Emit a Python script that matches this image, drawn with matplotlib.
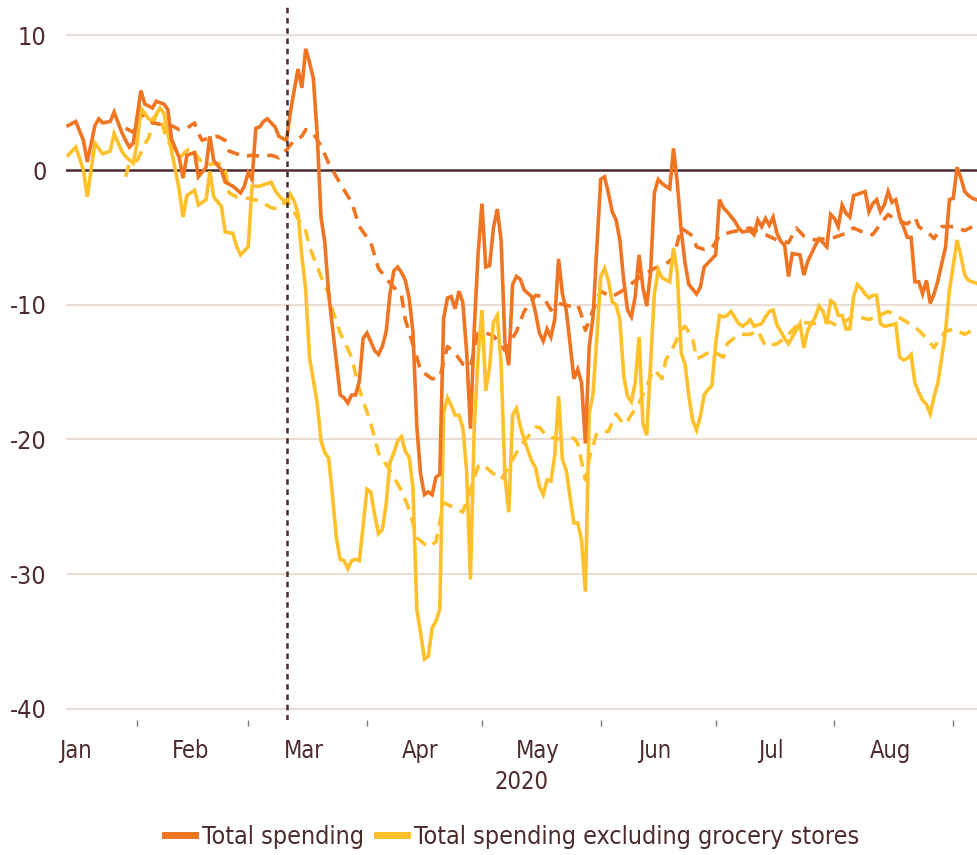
import pandas as pd
import matplotlib
matplotlib.use("Agg")
import matplotlib.pyplot as plt
import matplotlib.dates as mdates
from matplotlib.lines import Line2D
from matplotlib import font_manager

# day number since 1 Jan 2020 -> index (%)
total = [(13, 3.3), (15, 3.6), (17, 2.2), (18, 0.6), (20, 3.3), (21, 3.8), (22, 3.5), (24, 3.6), (25, 4.3),
         (27, 2.8), (28, 2.2), (29, 1.7), (30, 2.0), (32, 5.9), (33, 4.9), (35, 4.6), (36, 5.1), (38, 4.9),
         (39, 4.5), (40, 2.3), (41, 1.6), (42, 0.9), (43, -0.6), (44, 1.1), (46, 1.3), (47, -0.5), (49, 0.2),
         (50, 2.5), (51, 0.7), (53, 0.0), (54, -0.9), (56, -1.2), (58, -1.7), (59, -1.2), (60, -0.2), (61, -0.7),
         (62, 3.1), (63, 3.2), (64, 3.6), (65, 3.8), (67, 3.2), (68, 2.5), (70, 2.2), (71, 4.3), (73, 7.5),
         (74, 6.1), (75, 9.0), (76, 8.0), (77, 6.8), (78, 2.7), (79, -3.5), (80, -5.4), (81, -9.2), (83, -14.2),
         (84, -16.7), (85, -16.9), (86, -17.3), (87, -16.7), (88, -16.7), (89, -15.7), (90, -12.5), (91, -12.1),
         (93, -13.4), (94, -13.7), (95, -13.1), (96, -12.0), (97, -9.2), (98, -7.5), (99, -7.2), (100, -7.6),
         (101, -8.2), (102, -9.5), (103, -12.0), (104, -19.0), (105, -22.6), (106, -24.1), (107, -23.9),
         (108, -24.1), (109, -22.8), (110, -22.6), (111, -11.0), (112, -9.5), (113, -9.4), (114, -10.3),
         (115, -9.0), (116, -9.8), (117, -13.5), (118, -19.2), (119, -11.8), (120, -6.2), (121, -2.5),
         (122, -7.2), (123, -7.1), (124, -4.3), (125, -2.9), (126, -5.2), (127, -12.8), (128, -14.5),
         (129, -8.5), (130, -7.9), (131, -8.1), (132, -8.9), (134, -9.4), (135, -10.6), (136, -12.1),
         (137, -12.7), (138, -11.8), (139, -12.4), (140, -11.1), (141, -6.6), (142, -9.2), (143, -10.4),
         (144, -12.9), (145, -15.5), (146, -14.8), (147, -15.8), (148, -20.3), (149, -13.1), (150, -10.9),
         (151, -5.7), (152, -0.7), (153, -0.5), (154, -1.7), (155, -3.1), (156, -3.7), (157, -5.2), (158, -8.2),
         (159, -10.4), (160, -10.9), (161, -9.4), (162, -6.3), (163, -8.7), (164, -10.1), (165, -7.6),
         (166, -1.7), (167, -0.7), (168, -1.0), (170, -1.4), (171, 1.6), (172, -1.0), (173, -4.5), (174, -6.9),
         (175, -8.5), (177, -9.2), (178, -8.7), (179, -7.2), (181, -6.6), (182, -6.3), (183, -2.2), (184, -2.8),
         (185, -3.1), (187, -3.8), (188, -4.3), (189, -4.6), (191, -4.5), (192, -4.8), (193, -3.7), (194, -4.2),
         (195, -3.6), (196, -4.1), (197, -3.5), (198, -4.7), (199, -5.3), (200, -5.6), (201, -7.9), (202, -6.2),
         (204, -6.3), (205, -7.8), (206, -6.8), (207, -6.2), (208, -5.6), (209, -5.1), (211, -5.7), (212, -3.3),
         (213, -3.6), (214, -4.2), (215, -2.6), (216, -3.2), (217, -3.5), (218, -1.9), (220, -1.7), (221, -1.6),
         (222, -3.1), (223, -2.5), (224, -2.2), (225, -3.1), (226, -2.6), (227, -1.6), (228, -2.4), (229, -2.2),
         (230, -3.5), (231, -4.2), (232, -5.0), (233, -5.0), (234, -8.3), (235, -8.3), (236, -9.2), (237, -8.2),
         (238, -9.9), (239, -9.2), (240, -8.2), (242, -5.7), (243, -2.2), (244, -2.1), (245, 0.2), (246, -0.6),
         (247, -1.6), (248, -1.9), (249, -2.1), (250, -2.2)]

excl = [(13, 1.1), (15, 1.7), (17, 0.0), (18, -2.0), (20, 2.0), (21, 1.6), (22, 1.2), (24, 1.4), (25, 2.7),
        (27, 1.4), (28, 1.0), (30, 0.5), (31, 2.0), (32, 4.6), (34, 3.8), (35, 3.7), (37, 4.6), (38, 4.2),
        (39, 2.8), (41, 0.0), (42, -1.5), (43, -3.5), (44, -1.9), (46, -1.5), (47, -2.6), (49, -2.2), (50, -0.1),
        (51, -2.0), (53, -2.7), (54, -4.6), (56, -4.7), (57, -5.7), (58, -6.3), (60, -5.7), (61, -1.2),
        (63, -1.2), (65, -1.0), (66, -0.9), (67, -1.5), (68, -1.9), (70, -2.5), (71, -1.8), (72, -2.3),
        (73, -3.2), (74, -6.4), (75, -8.9), (76, -13.9), (78, -17.3), (79, -20.1), (80, -21.0), (81, -21.4),
        (82, -24.2), (83, -27.3), (84, -28.9), (85, -29.0), (86, -29.6), (87, -29.0), (88, -28.9), (89, -29.0),
        (90, -26.4), (91, -23.7), (92, -23.9), (93, -25.6), (94, -27.0), (95, -26.7), (96, -24.8), (97, -21.7),
        (98, -21.0), (99, -20.1), (100, -19.8), (101, -20.9), (102, -21.3), (103, -23.6), (104, -32.6),
        (105, -34.4), (106, -36.3), (107, -36.1), (108, -34.0), (109, -33.5), (110, -32.6), (111, -18.0),
        (112, -16.9), (113, -17.5), (114, -18.2), (115, -18.2), (116, -19.1), (117, -22.3), (118, -30.4),
        (119, -19.0), (120, -13.9), (121, -10.4), (122, -16.4), (123, -14.6), (124, -11.3), (125, -10.8),
        (126, -14.4), (127, -22.8), (128, -25.4), (129, -18.2), (130, -17.7), (131, -19.0), (132, -20.0),
        (133, -20.8), (134, -21.6), (135, -22.1), (136, -23.5), (137, -24.1), (138, -23.0), (139, -23.1),
        (140, -21.2), (141, -16.8), (142, -21.5), (143, -22.3), (144, -24.3), (145, -26.2), (146, -26.2),
        (147, -27.5), (148, -31.3), (149, -18.1), (150, -16.6), (151, -12.4), (152, -7.9), (153, -7.3),
        (154, -8.2), (155, -9.8), (156, -10.0), (157, -11.1), (158, -15.3), (159, -16.8), (160, -17.2),
        (161, -15.8), (162, -12.4), (163, -18.8), (164, -19.7), (165, -14.4), (166, -9.2), (167, -7.4),
        (168, -8.0), (170, -8.3), (171, -5.8), (172, -7.7), (173, -13.6), (174, -14.4), (175, -16.8),
        (176, -18.6), (177, -19.3), (178, -18.3), (179, -16.7), (180, -16.3), (181, -16.0), (182, -12.9),
        (183, -10.8), (184, -10.9), (185, -10.8), (186, -10.5), (188, -11.4), (189, -11.6), (190, -11.4),
        (191, -11.1), (192, -11.6), (194, -11.4), (195, -10.9), (196, -10.5), (197, -10.4), (198, -11.5),
        (200, -12.5), (201, -12.9), (202, -12.4), (203, -11.9), (204, -11.4), (205, -13.2), (206, -11.9),
        (207, -11.4), (208, -10.9), (209, -10.1), (210, -10.5), (211, -11.4), (212, -9.7), (213, -9.9),
        (214, -10.8), (215, -10.8), (216, -11.8), (217, -11.8), (218, -9.4), (219, -8.5), (220, -8.8),
        (221, -9.2), (222, -9.5), (223, -9.3), (224, -9.3), (225, -11.4), (226, -11.6), (228, -11.5),
        (229, -11.4), (230, -13.9), (231, -14.1), (232, -14.0), (233, -13.7), (234, -15.8), (235, -16.5),
        (236, -17.1), (237, -17.4), (238, -18.1), (239, -16.8), (240, -15.8), (241, -13.9), (242, -11.9),
        (243, -8.9), (244, -7.1), (245, -5.2), (246, -6.4), (247, -7.8), (248, -8.2), (249, -8.3), (250, -8.4)]

# smoothed series (dashed)
total_avg = [(28, 3.1), (30, 2.8), (32, 4.0), (34, 4.2), (35, 3.5), (37, 3.4), (38, 3.5), (40, 3.3), (42, 3.0),
             (44, 3.1), (46, 3.5), (47, 2.7), (48, 2.2), (50, 2.4), (52, 2.5), (54, 2.2), (55, 1.4), (57, 1.2),
             (59, 1.0), (61, 1.1), (64, 1.0), (66, 1.1), (68, 0.9), (70, 1.5), (72, 2.2), (74, 2.5), (75, 3.0),
             (77, 2.7), (79, 1.8), (81, 0.5), (84, -1.0), (87, -2.4), (89, -4.2), (92, -5.4), (94, -7.3),
             (97, -8.4), (100, -9.3), (101, -11.1), (104, -13.9), (105, -14.9), (108, -15.5), (110, -15.4),
             (112, -13.1), (114, -13.6), (116, -14.4), (118, -14.6), (120, -12.1), (122, -12.1), (124, -12.3),
             (127, -13.4), (130, -12.0), (132, -10.5), (134, -9.7), (135, -9.3), (137, -9.4), (139, -10.4),
             (141, -9.9), (144, -10.1), (146, -10.0), (147, -10.8), (148, -11.9), (150, -10.4), (152, -9.0),
             (154, -9.3), (155, -9.4), (158, -8.9), (162, -8.0), (166, -7.3), (169, -7.0), (171, -6.5),
             (173, -4.3), (176, -4.9), (177, -5.7), (179, -5.9), (181, -5.8), (183, -4.9), (186, -4.6),
             (188, -4.5), (191, -4.3), (194, -4.7), (195, -4.8), (198, -5.2), (201, -5.4), (203, -4.3),
             (205, -4.9), (207, -5.1), (208, -5.2), (213, -5.0), (216, -4.7), (218, -4.3), (221, -4.7),
             (223, -4.8), (225, -4.0), (227, -3.3), (229, -3.7), (232, -4.0), (234, -3.5), (235, -4.2),
             (238, -4.8), (239, -5.1), (241, -4.2), (244, -4.2), (247, -4.5), (249, -4.2), (250, -4.0)]

excl_avg = [(28, -0.5), (29, 0.5), (30, 0.7), (31, 0.7), (33, 1.9), (34, 2.4), (36, 4.1), (37, 3.9), (39, 2.1),
            (41, 1.5), (42, 0.9), (45, 1.7), (48, 0.5), (49, 0.4), (53, 0.5), (54, 0.0), (55, -1.7), (57, -2.0),
            (60, -2.1), (63, -2.3), (66, -2.8), (68, -2.9), (70, -2.2), (73, -3.6), (75, -4.5), (76, -5.7),
            (79, -7.9), (81, -9.2), (82, -10.4), (84, -12.1), (87, -13.9), (89, -16.3), (92, -18.8), (94, -21.0),
            (97, -22.3), (100, -23.8), (102, -25.2), (104, -27.3), (107, -28.0), (109, -27.6), (111, -24.7),
            (114, -25.1), (116, -25.4), (120, -22.0), (121, -21.8), (125, -22.8), (126, -23.0), (129, -21.5),
            (131, -20.5), (135, -19.1), (136, -19.1), (138, -19.8), (142, -20.0), (145, -19.9), (146, -20.3),
            (148, -23.0), (149, -21.4), (151, -19.5), (154, -19.4), (156, -18.1), (158, -18.9), (159, -18.6),
            (162, -17.3), (164, -16.1), (165, -15.3), (166, -14.8), (168, -15.5), (169, -14.1), (171, -13.1),
            (173, -11.9), (174, -11.6), (176, -12.5), (177, -14.0), (178, -13.9), (181, -13.4), (184, -13.9),
            (185, -12.9), (188, -12.2), (191, -12.2), (193, -11.9), (195, -13.1), (198, -12.9), (200, -12.5),
            (203, -11.6), (204, -11.3), (208, -11.4), (212, -11.3), (214, -11.6), (218, -10.8), (222, -11.1),
            (224, -10.9), (227, -10.5), (229, -10.8), (232, -11.3), (235, -11.9), (237, -12.5), (239, -13.2),
            (240, -12.7), (242, -12.0), (244, -11.8), (247, -12.2), (249, -11.9), (250, -11.7)]

lockdown = "2020-03-11"
y_ticks = [10, 0, -10, -20, -30, -40]
months = ["Jan", "Feb", "Mar", "Apr", "May", "Jun", "Jul", "Aug"]
labels = ["Total spending", "Total spending excluding grocery stores"]

ORANGE = "#F07522"
YELLOW = "#FFC12B"
BROWN = "#4B2B2B"
GRID = "#E4D6CD"

plt.rcParams["font.family"] = ["DejaVu Sans"]
plt.rcParams["axes.unicode_minus"] = False
# use the condensed cut of DejaVu if the system has it
cond = any(f.name == "DejaVu Sans" and "Condensed" in f.fname for f in font_manager.fontManager.ttflist)
if cond:
    plt.rcParams["font.stretch"] = "condensed"
    fs_y, fs_leg, fs_x = 18, 18, 17
else:
    fs_y, fs_leg, fs_x = 16.5, 16.5, 15.5

start = pd.Timestamp("2020-01-01")


def to_xy(pairs):
    d, v = zip(*pairs)
    return start + pd.to_timedelta(list(d), unit="D"), list(v)


fig = plt.figure(figsize=(9.77, 8.55), dpi=100)
ax = fig.add_axes([66 / 977, 1 - 720 / 855, 1 - 66 / 977, 715 / 855])

for yt in y_ticks:
    if yt == 0:
        ax.axhline(0, color=BROWN, lw=1.8, zorder=2)
    else:
        ax.axhline(yt, color=GRID, lw=1.2, zorder=1)

dash = (0, (3.4, 2.3))
x, y = to_xy(excl_avg)
ax.plot(x, y, color=YELLOW, lw=2.6, ls=dash, zorder=3)
x, y = to_xy(total_avg)
ax.plot(x, y, color=ORANGE, lw=2.6, ls=dash, zorder=3)
x, y = to_xy(excl)
ax.plot(x, y, color=YELLOW, lw=2.6, zorder=4, solid_joinstyle="miter")
x, y = to_xy(total)
ax.plot(x, y, color=ORANGE, lw=2.6, zorder=5, solid_joinstyle="miter")

ax.axvline(pd.Timestamp(lockdown), color=BROWN, lw=1.8, ls=(0, (2.2, 1.9)), zorder=6)

ax.set_ylim(-40.83, 12.25)
ax.set_xlim(start + pd.Timedelta(days=12.45), start + pd.Timedelta(days=250.2))
ax.set_yticks(y_ticks)
ax.set_yticklabels([str(t) for t in y_ticks])
ax.tick_params(axis="y", length=0, pad=14, labelsize=fs_y, labelcolor=BROWN)

mid = [start + pd.Timedelta(days=d) for d in [15, 45, 74.5, 105, 135.5, 166, 196.5, 227.5]]
ax.set_xticks(mid)
ax.set_xticklabels(months)
ax.xaxis.set_minor_locator(mdates.MonthLocator(bymonth=range(2, 10)))
ax.tick_params(axis="x", which="major", length=0, pad=14, labelsize=fs_x, labelcolor=BROWN)
ax.tick_params(axis="x", which="minor", length=4, width=1.0, color="#8a7a76", direction="out", pad=2)
ax.set_xlabel("2020", fontsize=fs_x, color=BROWN, labelpad=5)

for s in ax.spines.values():
    s.set_visible(False)

handles = [Line2D([], [], color=ORANGE, lw=5), Line2D([], [], color=YELLOW, lw=5)]
fig.legend(handles, labels, loc="center", bbox_to_anchor=(0.524, 0.021), ncol=2, frameon=False,
           fontsize=fs_leg, labelcolor=BROWN, handlelength=1.2, handletextpad=0.3, columnspacing=0.5)

fig.savefig("out.png", dpi=100)
